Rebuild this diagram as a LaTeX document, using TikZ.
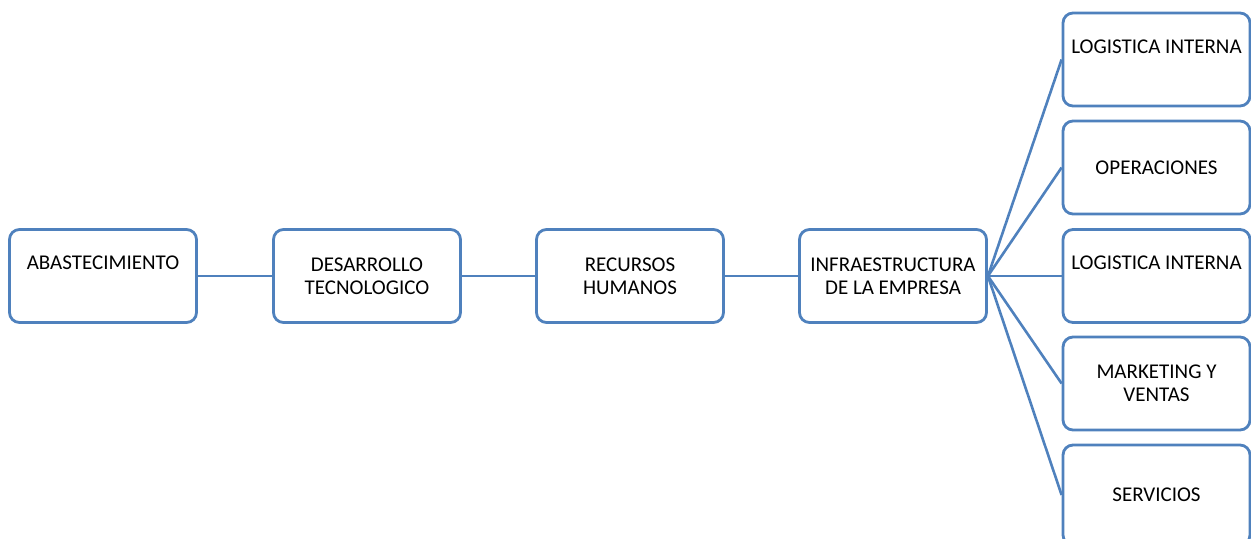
\documentclass[tikz,border=0pt]{standalone}
\usepackage{fontspec}
\setmainfont{Carlito}
\definecolor{boxblue}{RGB}{79,129,189}

\begin{document}
\begin{tikzpicture}[
  x=0.5pt, y=-0.5pt,
  font=\fontsize{10.5}{11.5}\selectfont,
  box/.style={rectangle, rounded corners=5pt, draw=boxblue, line width=1.4pt, fill=white,
    minimum width=93.5pt, minimum height=46.5pt, inner sep=0pt, align=center},
  topbox/.style={box, text height=20pt, text depth=26.5pt},
  edge/.style={draw=boxblue, line width=1.3pt}
]
\useasboundingbox (0,0) rectangle (1251,538);

\node[topbox] (abast) at (103,276)  {ABASTECIMIENTO};
\node[box]    (desa)  at (367,276)  {DESARROLLO\\TECNOLOGICO};
\node[box]    (recu)  at (630,276)  {RECURSOS\\HUMANOS};
\node[box]    (infra) at (893,276)  {INFRAESTRUCTURA\\DE LA EMPRESA};

\node[topbox] (login)  at (1156.5,59.5)  {LOGISTICA INTERNA};
\node[box]    (oper)   at (1156.5,167.5) {OPERACIONES};
\node[topbox] (login2) at (1156.5,276)   {LOGISTICA INTERNA};
\node[box]    (mark)   at (1156.5,383.5) {MARKETING Y\\VENTAS};
\node[box, minimum height=50pt] (serv) at (1156.5,495) {SERVICIOS};

\draw[edge] (abast) -- (desa);
\draw[edge] (desa) -- (recu);
\draw[edge] (recu) -- (infra);
\draw[edge] (infra.east) -- (login.west);
\draw[edge] (infra.east) -- (oper.west);
\draw[edge] (infra.east) -- (login2.west);
\draw[edge] (infra.east) -- (mark.west);
\draw[edge] (infra.east) -- (serv.west);
\end{tikzpicture}
\end{document}
